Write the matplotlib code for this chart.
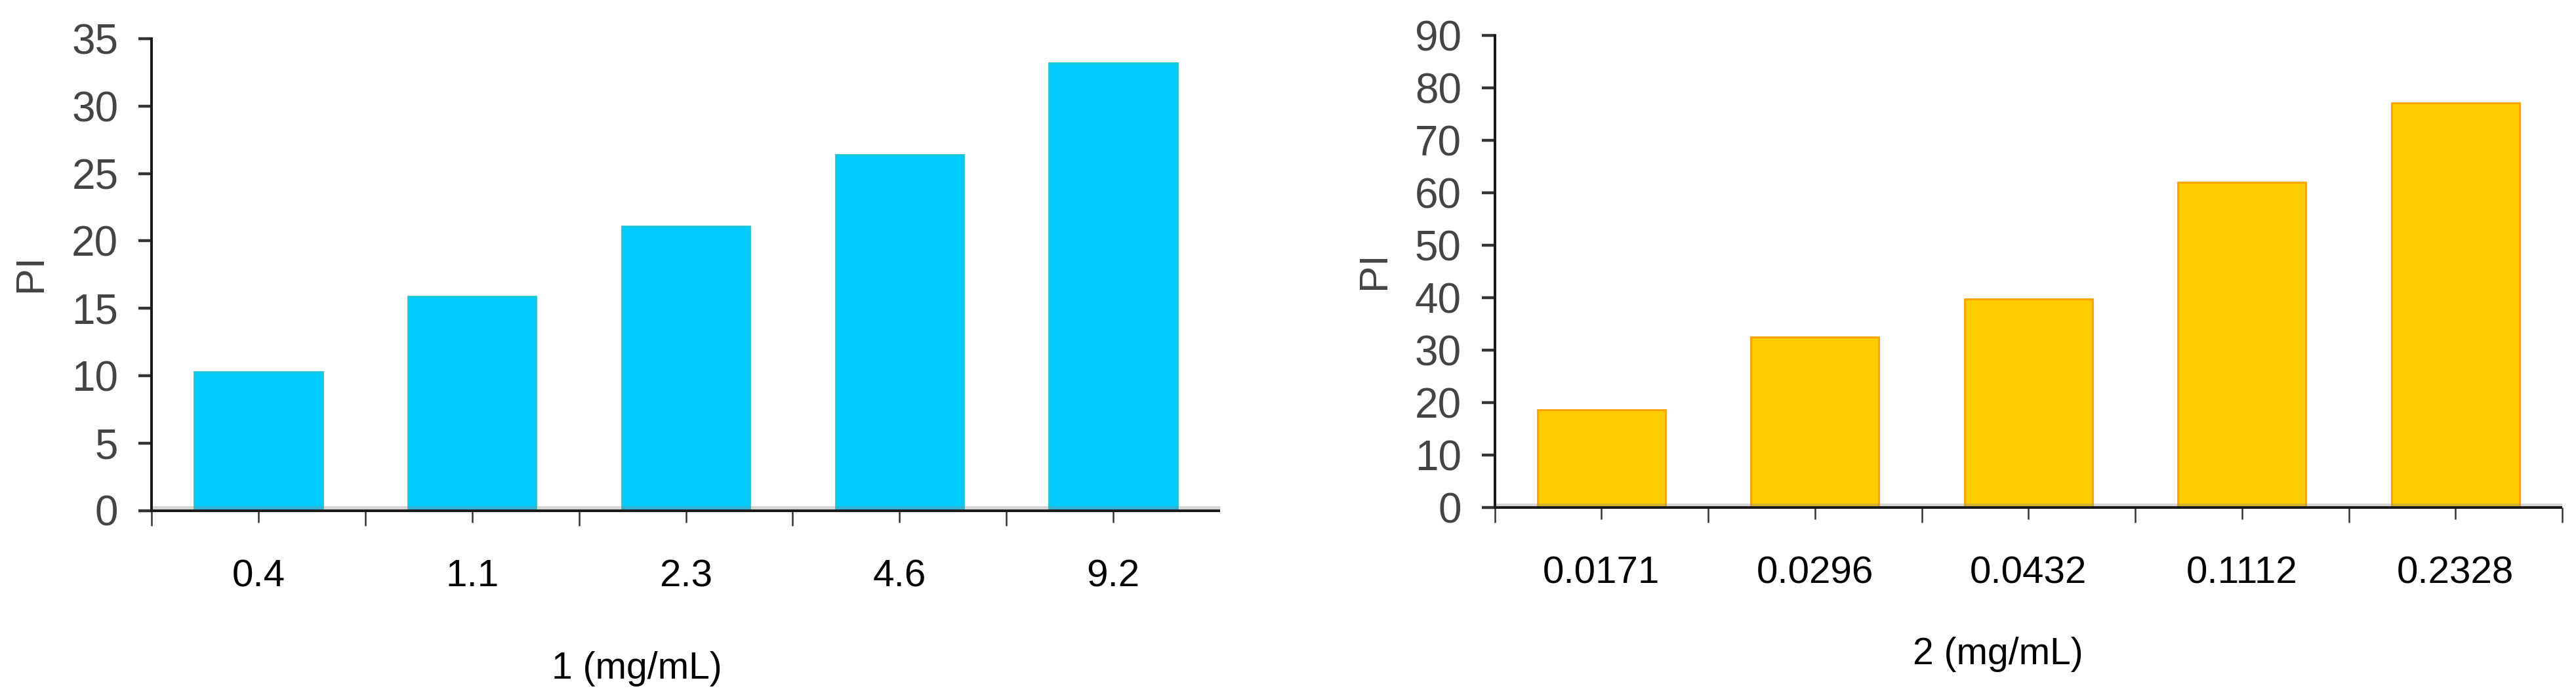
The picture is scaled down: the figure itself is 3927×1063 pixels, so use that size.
import matplotlib
matplotlib.use("Agg")
import matplotlib.pyplot as plt
import matplotlib.transforms as mtransforms
import numpy as np

# ---- data ----
cats1 = ["0.4", "1.1", "2.3", "4.6", "9.2"]
vals1 = [10.3, 15.9, 21.1, 26.4, 33.2]
yticks1 = [0, 5, 10, 15, 20, 25, 30, 35]
xlabel1 = "1 (mg/mL)"

cats2 = ["0.0171", "0.0296", "0.0432", "0.1112", "0.2328"]
vals2 = [18.6, 32.5, 39.7, 62.0, 77.1]
yticks2 = [0, 10, 20, 30, 40, 50, 60, 70, 80, 90]
xlabel2 = "2 (mg/mL)"

ylabel = "PI"

plt.rcParams['font.family'] = ['Liberation Sans', 'DejaVu Sans']

W, H = 3927, 1063
fig = plt.figure(figsize=(W / 100, H / 100), dpi=100)

def make_panel(rect, cats, vals, yticks, fill, edge, minor_end):
    ax = fig.add_axes(rect)
    x = np.arange(len(cats))
    ax.bar(x, vals, width=0.6, color=fill, edgecolor=edge, linewidth=2.0, zorder=2)
    ax.set_xlim(-0.5, len(cats) - 0.5)
    ax.set_ylim(0, yticks[-1])
    ax.set_yticks(yticks)
    ax.set_yticklabels([str(t) for t in yticks])
    ax.set_xticks(x)
    ax.set_xticklabels(cats)
    ax.set_xticks(np.arange(-0.5, minor_end, 1.0), minor=True)
    for s in ['top', 'right']:
        ax.spines[s].set_visible(False)
    for s in ['left', 'bottom']:
        ax.spines[s].set_linewidth(2.9)
        ax.spines[s].set_color('#1a1a1a')
        ax.spines[s].set_zorder(4)
    ax.spines['bottom'].set_capstyle('butt')
    ax.tick_params(axis='y', direction='out', length=14.5, width=3.2,
                   color='#333333', labelsize=46, labelcolor='#444444', pad=22)
    ax.tick_params(axis='x', which='major', direction='out', length=13, width=1.8,
                   color='#333333', labelsize=42, labelcolor='black', pad=40)
    ax.tick_params(axis='x', which='minor', direction='out', length=16.5, width=1.8,
                   color='#333333')
    # gray shadow band just above the x-axis line
    off = mtransforms.offset_copy(ax.transData, fig=fig, x=0, y=4.5, units='dots')
    ax.plot([-0.5, len(cats) - 0.5], [0, 0], color='#888888', alpha=0.35,
            linewidth=3.6, transform=off, zorder=3, solid_capstyle='butt', clip_on=False)
    return ax

ax1 = make_panel([231 / W, (H - 778.5) / H, 1629 / W, 719.5 / H],
                 cats1, vals1, yticks1, '#00CCFF', '#22C4D4', 4.0)
ax2 = make_panel([2278.5 / W, (H - 774) / H, 1627.5 / W, 720 / H],
                 cats2, vals2, yticks2, '#FFCC00', '#FFA000', 5.0)

# y-axis labels
fig.text(47 / W, (H - 416) / H, ylabel, rotation=90, ha='center', va='center',
         fontsize=44, color='#444444')
fig.text(2096 / W, (H - 412) / H, ylabel, rotation=90, ha='center', va='center',
         fontsize=44, color='#444444')

# x-axis labels
fig.text(971 / W, (H - 1020) / H, xlabel1, ha='center', va='center',
         fontsize=41, color='black')
fig.text(3046 / W, (H - 998) / H, xlabel2, ha='center', va='center',
         fontsize=41, color='black')

fig.savefig("out.png", dpi=100, facecolor='white')
